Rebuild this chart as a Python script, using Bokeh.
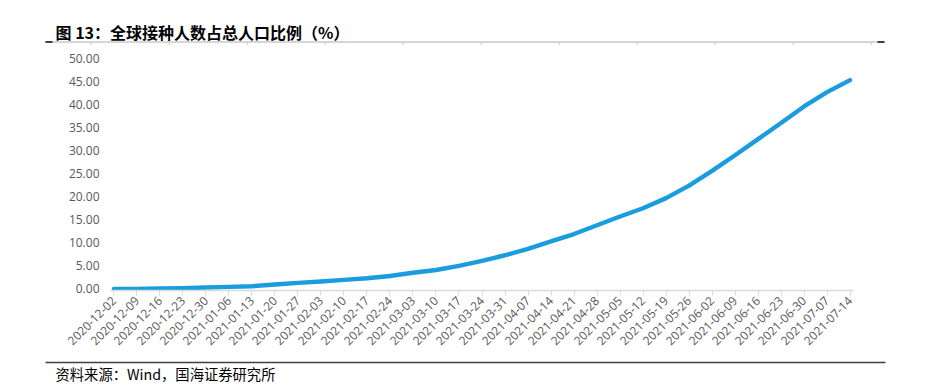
from bokeh.plotting import figure
from bokeh.layouts import column
from bokeh.models import Range1d, FixedTicker, Label
from bokeh.embed import file_html
from bokeh.resources import INLINE
import math

# ---- data ----
dates = ["2020-12-02", "2020-12-09", "2020-12-16", "2020-12-23", "2020-12-30",
         "2021-01-06", "2021-01-13", "2021-01-20", "2021-01-27", "2021-02-03",
         "2021-02-10", "2021-02-17", "2021-02-24", "2021-03-03", "2021-03-10",
         "2021-03-17", "2021-03-24", "2021-03-31", "2021-04-07", "2021-04-14",
         "2021-04-21", "2021-04-28", "2021-05-05", "2021-05-12", "2021-05-19",
         "2021-05-26", "2021-06-02", "2021-06-09", "2021-06-16", "2021-06-23",
         "2021-06-30", "2021-07-07", "2021-07-14"]
share = [0.0, 0.01, 0.07, 0.15, 0.29, 0.43, 0.58, 0.94, 1.3, 1.6,
         1.96, 2.3, 2.8, 3.5, 4.1, 5.0, 6.1, 7.3, 8.7, 10.3,
         11.9, 13.8, 15.7, 17.5, 19.7, 22.4, 25.6, 29.0, 32.5, 36.0,
         39.6, 42.7, 45.3]
y_ticks = [0, 5, 10, 15, 20, 25, 30, 35, 40, 45, 50]
title_text = "图 13：全球接种人数占总人口比例（%）"
source_text = "资料来源：Wind，国海证券研究所"

W = 900
TOP_H = 46          # header strip
MAIN_H = 312        # chart
BOT_H = 25          # footer strip

# ---------------- header strip ----------------
top = figure(width=W, height=TOP_H, output_backend="svg", toolbar_location=None,
             x_range=Range1d(0, W), y_range=Range1d(TOP_H, 0),
             x_axis_type=None, y_axis_type=None, min_border=0)
top.frame_align = False
top.outline_line_color = None
top.grid.visible = False
top.add_layout(Label(x=55, y=31, text=title_text, text_font="Noto Sans CJK SC",
                     text_font_style="bold", text_font_size="16px",
                     text_color="#000000", text_baseline="middle", text_align="left"))
top.segment(x0=[45], y0=[41.5], x1=[884], y1=[41.5], line_color="#C8C8C8", line_width=1.5)
tick_x = [90.7 + 78 * k for k in range(11)]
top.segment(x0=tick_x, y0=[41.5] * 11, x1=tick_x, y1=[44.5] * 11,
            line_color="#C8C8C8", line_width=1)
top.segment(x0=[45, 877], y0=[41.5, 41.5], x1=[52, 884], y1=[41.5, 41.5],
            line_color="#404040", line_width=2)

# ---------------- main chart ----------------
pad = 0.15
p = figure(width=W, height=MAIN_H, output_backend="svg", toolbar_location=None,
           x_range=Range1d(-pad, len(dates) - 1 + pad),
           y_range=Range1d(-0.35, 50),
           min_border_left=110, min_border_right=47,
           min_border_top=12, min_border_bottom=MAIN_H - 12 - 232)
p.frame_align = False
p.outline_line_color = None
p.xgrid.visible = False
p.ygrid.visible = False

x_idx = list(range(len(dates)))
p.line(x_idx, share, line_color="#1A9DDE", line_width=4.4,
       line_cap="round", line_join="round")

xa = p.xaxis[0]
xa.ticker = FixedTicker(ticks=x_idx)
xa.major_label_overrides = {i: d for i, d in enumerate(dates)}
xa.major_label_orientation = math.pi / 4
xa.axis_line_color = "#D9D9D9"
xa.axis_line_width = 1.5
xa.major_tick_line_color = "#D9D9D9"
xa.major_tick_out = 5
xa.major_tick_in = 0
xa.minor_tick_line_color = None
xa.major_label_text_font = "Open Sans"
xa.major_label_text_font_size = "12px"
xa.major_label_text_color = "#595959"
xa.major_label_standoff = 3

ya = p.yaxis[0]
ya.ticker = FixedTicker(ticks=y_ticks)
ya.major_label_overrides = {v: f"{v:.2f}" for v in y_ticks}
ya.axis_line_color = None
ya.major_tick_line_color = None
ya.minor_tick_line_color = None
ya.major_tick_out = 0
ya.major_tick_in = 0
ya.major_label_standoff = 11
ya.major_label_text_font = "Open Sans"
ya.major_label_text_font_size = "12px"
ya.major_label_text_color = "#595959"

# ---------------- footer strip ----------------
bot = figure(width=W, height=BOT_H, output_backend="svg", toolbar_location=None,
             x_range=Range1d(0, W), y_range=Range1d(BOT_H, 0),
             x_axis_type=None, y_axis_type=None, min_border=0)
bot.frame_align = False
bot.outline_line_color = None
bot.grid.visible = False
bot.segment(x0=[45], y0=[4], x1=[885], y1=[4], line_color="#404040", line_width=1.5)
bot.add_layout(Label(x=55, y=15, text=source_text, text_font="Noto Sans CJK SC",
                     text_font_size="14.3px", text_color="#000000",
                     text_baseline="middle", text_align="left"))

layout = column(top, p, bot, spacing=0)
open("out.html", "w").write(file_html(layout, INLINE))
